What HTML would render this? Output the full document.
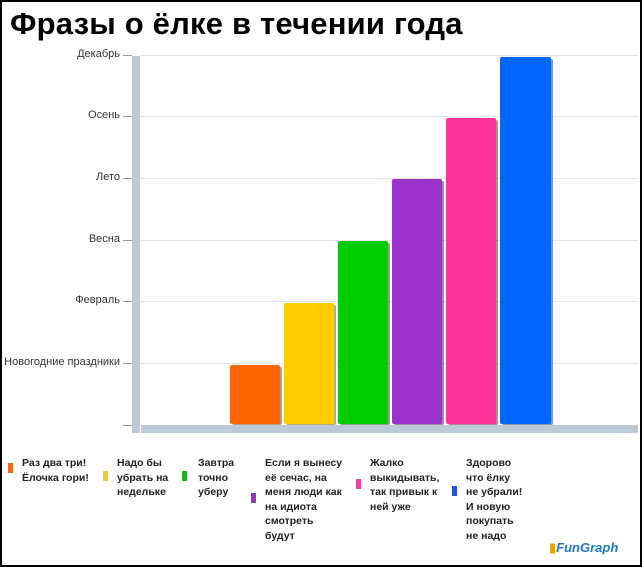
<!DOCTYPE html>
<html><head><meta charset="utf-8"><style>
body{margin:0;width:642px;height:567px;overflow:hidden;background:#fff;font-family:"Liberation Sans","DejaVu Sans",sans-serif}
#f{position:absolute;left:0;top:0;width:638px;height:563px;border:2px solid #000;}
.t{position:absolute;left:10px;top:6px;font-size:31px;font-weight:bold;color:#000;letter-spacing:0.2px}
.yl{position:absolute;right:522px;font-size:11px;color:#333;white-space:nowrap}
.lg{position:absolute;font-size:10.5px;font-weight:bold;color:#222;line-height:14.6px}
.sw{position:absolute;width:5px;height:10px}
</style></head><body>
<div id="f"></div>
<div class="t">Фразы о ёлке в течении года</div>
<svg width="642" height="567" style="position:absolute;left:0;top:0">
<g stroke="#e6e6e6" stroke-width="1">
<line x1="140" y1="55.5" x2="638" y2="55.5"/><line x1="140" y1="116.5" x2="638" y2="116.5"/>
<line x1="140" y1="178.5" x2="638" y2="178.5"/><line x1="140" y1="240.5" x2="638" y2="240.5"/>
<line x1="140" y1="301.5" x2="638" y2="301.5"/><line x1="140" y1="363.5" x2="638" y2="363.5"/>
</g>
<g stroke="#999" stroke-width="1">
<line x1="123" y1="55.5" x2="132" y2="55.5"/><line x1="123" y1="116.5" x2="132" y2="116.5"/>
<line x1="123" y1="178.5" x2="132" y2="178.5"/><line x1="123" y1="240.5" x2="132" y2="240.5"/>
<line x1="123" y1="301.5" x2="132" y2="301.5"/><line x1="123" y1="363.5" x2="132" y2="363.5"/>
<line x1="123" y1="425.5" x2="132" y2="425.5"/>
</g>
<rect x="132" y="56" width="8" height="377" fill="#bccad8"/>
<rect x="141" y="425" width="497" height="8" fill="#bccad8"/>
<g>
<rect x="232" y="367" width="50" height="58" fill="#6b3a10" opacity=".5" rx="2"/>
<rect x="230" y="365" width="50" height="59" fill="#ff6600" rx="2"/>
<rect x="286" y="305" width="50" height="120" fill="#6b5a10" opacity=".5" rx="2"/>
<rect x="284" y="303" width="50" height="121" fill="#ffcc00" rx="2"/>
<rect x="340" y="243" width="50" height="182" fill="#1a4a1a" opacity=".5" rx="2"/>
<rect x="338" y="241" width="50" height="183" fill="#00cc00" rx="2"/>
<rect x="394" y="181" width="50" height="244" fill="#3a1a4a" opacity=".5" rx="2"/>
<rect x="392" y="179" width="50" height="245" fill="#9933cc" rx="2"/>
<rect x="448" y="120" width="50" height="305" fill="#5a1a3a" opacity=".5" rx="2"/>
<rect x="446" y="118" width="50" height="306" fill="#ff3399" rx="2"/>
<rect x="502" y="59" width="51" height="366" fill="#1a2a5a" opacity=".5" rx="2"/>
<rect x="500" y="57" width="51" height="367" fill="#0066ff" rx="2"/>
</g>
</svg>
<div class="yl" style="top:48px">Декабрь</div>
<div class="yl" style="top:109px">Осень</div>
<div class="yl" style="top:171px">Лето</div>
<div class="yl" style="top:233px">Весна</div>
<div class="yl" style="top:294px">Февраль</div>
<div class="yl" style="top:356px">Новогодние праздники</div>

<div class="sw" style="left:8px;top:463px;background:#ee6a22"></div>
<div class="lg" style="left:22px;top:456px">Раз два три!<br>Ёлочка гори!</div>
<div class="sw" style="left:103px;top:471px;background:#f0c830"></div>
<div class="lg" style="left:117px;top:456px">Надо бы<br>убрать на<br>недельке</div>
<div class="sw" style="left:182px;top:471px;background:#20b020"></div>
<div class="lg" style="left:198px;top:456px">Завтра<br>точно<br>уберу</div>
<div class="sw" style="left:251px;top:493px;background:#9933bb"></div>
<div class="lg" style="left:265px;top:456px">Если я вынесу<br>её сечас, на<br>меня люди как<br>на идиота<br>смотреть<br>будут</div>
<div class="sw" style="left:356px;top:479px;background:#ee4499"></div>
<div class="lg" style="left:370px;top:456px">Жалко<br>выкидывать,<br>так привык к<br>ней уже</div>
<div class="sw" style="left:452px;top:486px;background:#2255dd"></div>
<div class="lg" style="left:466px;top:456px">Здорово<br>что ёлку<br>не убрали!<br>И новую<br>покупать<br>не надо</div>
<div style="position:absolute;left:549px;top:540px;font-size:13px;font-weight:bold;color:#2277cc;font-style:italic"><span style="color:#f0a000">▮</span>FunGraph</div>
</body></html>
